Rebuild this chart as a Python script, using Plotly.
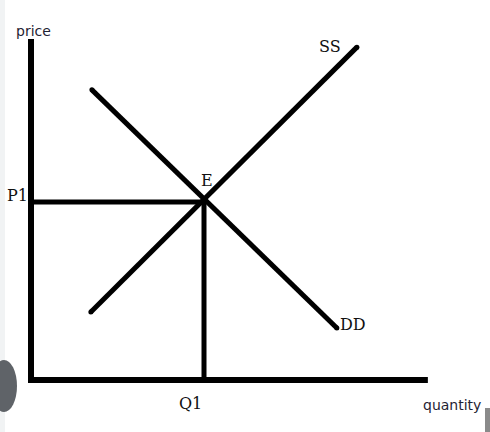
import plotly.graph_objects as go

# ---- data (economic units) ----
Q1 = 5.0
P1 = 5.0
demand_q = [1.76, 8.84]
demand_p = [8.15, 1.46]
supply_q = [1.73, 9.42]
supply_p = [1.91, 9.35]
axis_q_max = 11.47
axis_p_max = 9.58
curve_labels = ["SS", "DD", "E"]
tick_labels = ["P1", "Q1"]
axis_titles = ["price", "quantity"]

W, H = 490, 432
x_range = [-0.896, 13.266]
y_range = [-1.461, 10.674]

fig = go.Figure()
black = "#000000"
lw = 5

# axes as a polyline
fig.add_trace(go.Scatter(x=[0, 0, axis_q_max], y=[axis_p_max, 0, 0], mode="lines",
                         line=dict(color=black, width=6), hoverinfo="skip"))
# equilibrium guide lines
fig.add_trace(go.Scatter(x=[0, Q1], y=[P1, P1], mode="lines",
                         line=dict(color=black, width=lw), hoverinfo="skip"))
fig.add_trace(go.Scatter(x=[Q1, Q1], y=[P1, 0], mode="lines+markers",
                         line=dict(color=black, width=lw),
                         marker=dict(size=5, color=black), hoverinfo="skip"))
# demand & supply
fig.add_trace(go.Scatter(x=demand_q, y=demand_p, mode="lines+markers",
                         line=dict(color=black, width=lw),
                         marker=dict(size=5, color=black), hoverinfo="skip"))
fig.add_trace(go.Scatter(x=supply_q, y=supply_p, mode="lines+markers",
                         line=dict(color=black, width=lw),
                         marker=dict(size=5, color=black), hoverinfo="skip"))

serif = dict(family="DejaVu Serif", size=16, color="#111111")
sans = dict(family="DejaVu Sans", size=14, color="#1f2333")

ann = [
    dict(x=supply_q[1] - 0.77, y=supply_p[1] + 0.03, text=curve_labels[0], font=serif),
    dict(x=demand_q[1] + 0.46, y=demand_p[1] + 0.1, text=curve_labels[1], font=serif),
    dict(x=Q1 + 0.09, y=P1 + 0.6, text=curve_labels[2], font=serif),
    dict(x=-0.4, y=P1 + 0.18, text=tick_labels[0], font=serif),
    dict(x=Q1 - 0.38, y=-0.65, text=tick_labels[1], font=serif),
    dict(x=0.06, y=axis_p_max + 0.22, text=axis_titles[0], font=sans),
    dict(x=12.17, y=-0.70, text=axis_titles[1], font=sans),
]
for a in ann:
    a.update(xref="x", yref="y", showarrow=False, xanchor="center", yanchor="middle")

shapes = [
    # light strip at the left edge
    dict(type="rect", xref="paper", yref="paper", x0=0, x1=5 / W, y0=0, y1=1,
         fillcolor="#f1f3f4", line=dict(width=0), layer="below"),
    # grey round badge at bottom left
    dict(type="circle", xref="paper", yref="paper",
         x0=-9 / W, x1=17 / W, y0=1 - 412 / H, y1=1 - 360 / H,
         fillcolor="#5f6368", line=dict(width=0)),
    # grey bar at bottom right
    dict(type="rect", xref="paper", yref="paper", x0=485 / W, x1=1, y0=0, y1=1 - 408 / H,
         fillcolor="#8a8a8a", line=dict(width=0)),
]

fig.update_layout(
    width=W, height=H, margin=dict(l=0, r=0, t=0, b=0),
    paper_bgcolor="white", plot_bgcolor="white", showlegend=False,
    xaxis=dict(range=x_range, visible=False, fixedrange=True),
    yaxis=dict(range=y_range, visible=False, fixedrange=True),
    annotations=ann, shapes=shapes,
)
fig.write_html(
    "out.html",
    config={"displayModeBar": False},
    post_script="document.body.style.margin='0';document.body.style.overflow='hidden';",
)
